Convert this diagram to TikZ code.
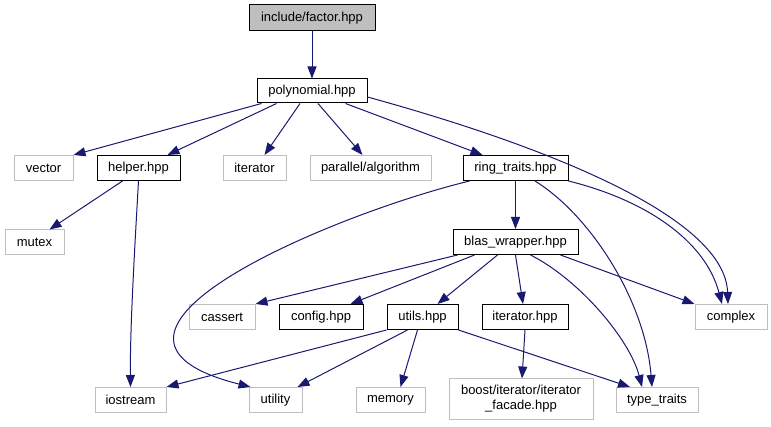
\documentclass[tikz,border=0pt]{standalone}
\usepackage{fontspec}
\setmainfont{Liberation Sans}
\usetikzlibrary{arrows.meta}
\definecolor{edgeblue}{HTML}{191970}
\definecolor{grey75}{HTML}{BFBFBF}
\tikzset{
  file/.style={draw=black, line width=1pt, minimum height=25pt, inner sep=0pt, font=\fontsize{13}{15}\selectfont},
  sys/.style={file, draw=grey75},
  dep/.style={draw=edgeblue, line width=1pt, -{Triangle[length=12pt,width=9pt]}},
}
\begin{document}
\begin{tikzpicture}[x=1pt, y=-1pt]
\useasboundingbox (0,0) rectangle (771,427);
\node[file, fill=grey75, minimum width=126pt, minimum height=26pt] (fac) at (312,18) {include/factor.hpp};
\node[file, minimum width=110pt, minimum height=24pt] (poly) at (312,91) {polynomial.hpp};
\node[sys, minimum width=59pt] (vec) at (43.5,168) {vector};
\node[file, minimum width=83pt] (helper) at (138.5,168) {helper.hpp};
\node[sys, minimum width=63pt] (iter) at (254.5,168) {iterator};
\node[sys, minimum width=121pt] (par) at (370.5,168) {parallel/algorithm};
\node[file, minimum width=105pt] (ring) at (515.5,168) {ring\_traits.hpp};
\node[sys, minimum width=59pt] (mutex) at (34.5,242.5) {mutex};
\node[file, minimum width=125pt] (blas) at (515.5,242) {blas\_wrapper.hpp};
\node[sys, minimum width=66pt] (cassert) at (222,317) {cassert};
\node[file, minimum width=84pt] (config) at (321,317) {config.hpp};
\node[file, minimum width=71pt] (utils) at (422.5,317) {utils.hpp};
\node[file, minimum width=86pt] (iterh) at (525,317) {iterator.hpp};
\node[sys, minimum width=72pt] (complex) at (731,317) {complex};
\node[sys, minimum width=71pt] (iostream) at (130.5,400) {iostream};
\node[sys, minimum width=53pt] (utility) at (275.5,400) {utility};
\node[sys, minimum width=69pt] (memory) at (390.5,400) {memory};
\node[sys, minimum width=144pt, minimum height=40pt, align=center] (boost) at (521,399) {boost/iterator/iterator\\\_facade.hpp};
\node[sys, minimum width=82pt] (tt) at (657,400) {type\_traits};
% factor.hpp and polynomial.hpp
\draw[dep] (fac) -- (poly);
\draw[dep] ([xshift=5pt]poly.south west) -- (vec.north east);
\draw[dep] ([xshift=20pt]poly.south west) -- ([xshift=-13pt]helper.north east);
\draw[dep] ([xshift=-12pt]poly.south) -- ([xshift=10pt]iter.north);
\draw[dep] ([xshift=6pt]poly.south) -- ([xshift=-8pt]par.north);
\draw[dep] ([xshift=-22pt]poly.south east) -- ([xshift=20pt]ring.north west);
\draw[dep] ([yshift=-6pt]poly.east) .. controls (560,150) and (725,220) .. ([xshift=-3pt]complex.north);
% helper.hpp
\draw[dep] ([xshift=-16pt]helper.south) -- ([xshift=15pt]mutex.north);
\draw[dep] (helper.south) .. controls (134,260) and (130,330) .. (iostream.north);
% ring_traits.hpp
\draw[dep] ([xshift=7pt]ring.south west) .. controls (330,215) and (45,335) .. ([xshift=2pt]utility.north west);
\draw[dep] (ring) -- (blas);
\draw[dep] ([xshift=19.5pt]ring.south) .. controls (590,215) and (645,300) .. ([xshift=-5pt]tt.north);
\draw[dep] (ring.south east) .. controls (645,200) and (705,240) .. ([xshift=-9pt]complex.north);
% blas_wrapper.hpp
\draw[dep] ([xshift=5pt]blas.south west) -- (cassert.north east);
\draw[dep] ([xshift=22pt]blas.south west) -- ([xshift=-13pt]config.north east);
\draw[dep] ([xshift=-18pt]blas.south) -- ([xshift=15pt]utils.north);
\draw[dep] (blas.south) -- ([xshift=-2pt]iterh.north);
\draw[dep] ([xshift=15pt]blas.south) .. controls (580,280) and (630,340) .. ([xshift=-15pt]tt.north);
\draw[dep] ([xshift=-18pt]blas.south east) -- (complex.north west);
% utils.hpp and iterator.hpp
\draw[dep] (utils.south west) -- (iostream.north east);
\draw[dep] ([xshift=-15pt]utils.south) -- ([xshift=-5pt]utility.north east);
\draw[dep] ([xshift=-5pt]utils.south) -- ([xshift=10pt]memory.north);
\draw[dep] (utils.south east) -- ([xshift=-27pt]tt.north);
\draw[dep] (iterh.south) -- ([xshift=1pt]boost.north);
\end{tikzpicture}
\end{document}
